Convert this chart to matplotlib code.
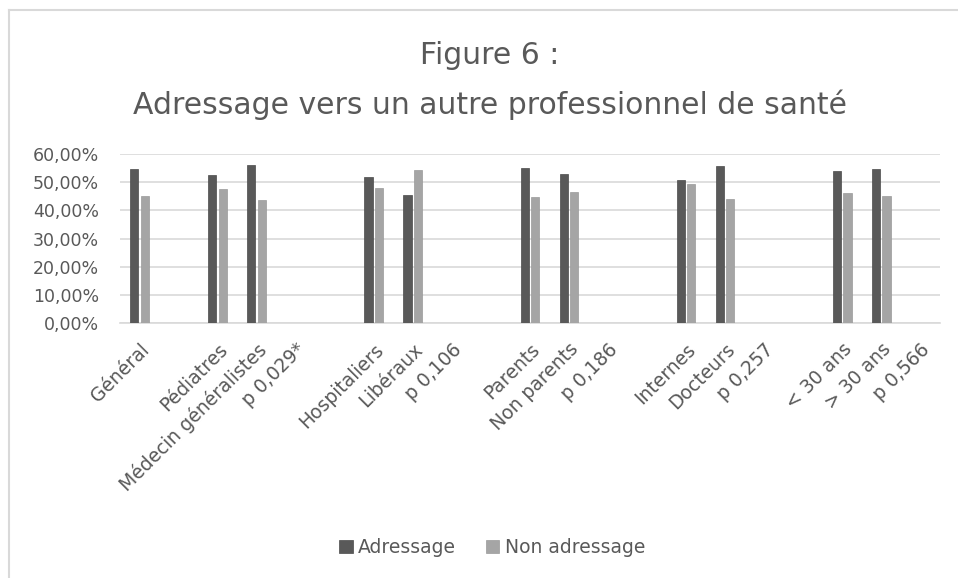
import numpy as np
import matplotlib
matplotlib.use("Agg")
import matplotlib.pyplot as plt
from matplotlib.ticker import FuncFormatter
from matplotlib.lines import Line2D
import matplotlib.transforms as mtransforms

plt.rcParams['font.family'] = ['DejaVu Sans']

categories = ["Général", "", "Pédiatres", "Médecin généralistes", "p 0,029*", "",
              "Hospitaliers", "Libéraux", "p 0,106", "",
              "Parents", "Non parents", "p 0,186", "",
              "Internes", "Docteurs", "p 0,257", "",
              "< 30 ans", "> 30 ans", "p 0,566"]
adressage = [54.6, None, 52.5, 56.0, None, None,
             52.0, 45.6, None, None,
             55.1, 53.0, None, None,
             50.6, 55.7, None, None,
             53.8, 54.7, None]
non_adressage = [45.1, None, 47.5, 43.8, None, None,
                 47.9, 54.3, None, None,
                 44.7, 46.6, None, None,
                 49.4, 44.2, None, None,
                 46.1, 45.1, None]
yticks = [0, 10, 20, 30, 40, 50, 60]

dark = "#595959"
light = "#A5A5A5"
txt = "#595959"

fig = plt.figure(figsize=(9.58, 5.78), dpi=100)
# chart border (only top and left visible in the crop)
fig.lines.append(Line2D([0.009, 1.0], [0.983, 0.983], transform=fig.transFigure,
                        color="#D9D9D9", linewidth=1.5))
fig.lines.append(Line2D([0.009, 0.009], [0.0, 0.983], transform=fig.transFigure,
                        color="#D9D9D9", linewidth=1.5))
ax = fig.add_axes([0.1253, 0.441, 0.8557, 0.2926])

x = np.arange(len(categories))
a = np.array([np.nan if v is None else v for v in adressage], dtype=float)
n = np.array([np.nan if v is None else v for v in non_adressage], dtype=float)
w = 0.21
ax.bar(x - 0.135, a, w, color=dark, edgecolor="#4a4a4a", linewidth=0.5, label="Adressage", zorder=3)
ax.bar(x + 0.135, n, w, color=light, edgecolor="#9a9a9a", linewidth=0.5, label="Non adressage", zorder=3)

ax.set_xlim(-0.5, len(categories) - 0.5)
ax.set_ylim(0, 60)
ax.set_yticks(yticks)
ax.yaxis.set_major_formatter(FuncFormatter(lambda v, p: ("%.2f%%" % v).replace(".", ",")))
ax.grid(axis="y", color="#D9D9D9", linewidth=1.2, zorder=0)
ax.set_xticks(x)
ax.set_xticklabels(categories, rotation=45, ha="right", rotation_mode="anchor")
shift = mtransforms.ScaledTranslation(-5 / 72, 0, fig.dpi_scale_trans)
for lab in ax.get_xticklabels():
    lab.set_transform(lab.get_transform() + shift)
for s in ["top", "right", "left"]:
    ax.spines[s].set_visible(False)
ax.spines["bottom"].set_color("#D9D9D9")
ax.spines["bottom"].set_linewidth(1.2)
ax.tick_params(axis="both", length=0, colors=txt, labelsize=12.5)
ax.tick_params(axis="x", labelsize=13.5, pad=12)
ax.tick_params(axis="y", pad=15)

fig.text(0.511, 0.890, "Figure 6 :", ha="center", va="baseline", fontsize=21.5, color=txt)
fig.text(0.511, 0.802, "Adressage vers un autre professionnel de santé", ha="center", va="baseline",
         fontsize=21.5, color=txt)

fig.legend(loc="center", bbox_to_anchor=(0.514, 0.052), ncol=2, frameon=False, fontsize=13.5,
           handlelength=0.7, handleheight=0.7, handletextpad=0.3, columnspacing=1.6,
           labelcolor=txt)

fig.savefig("out.png", dpi=100)
